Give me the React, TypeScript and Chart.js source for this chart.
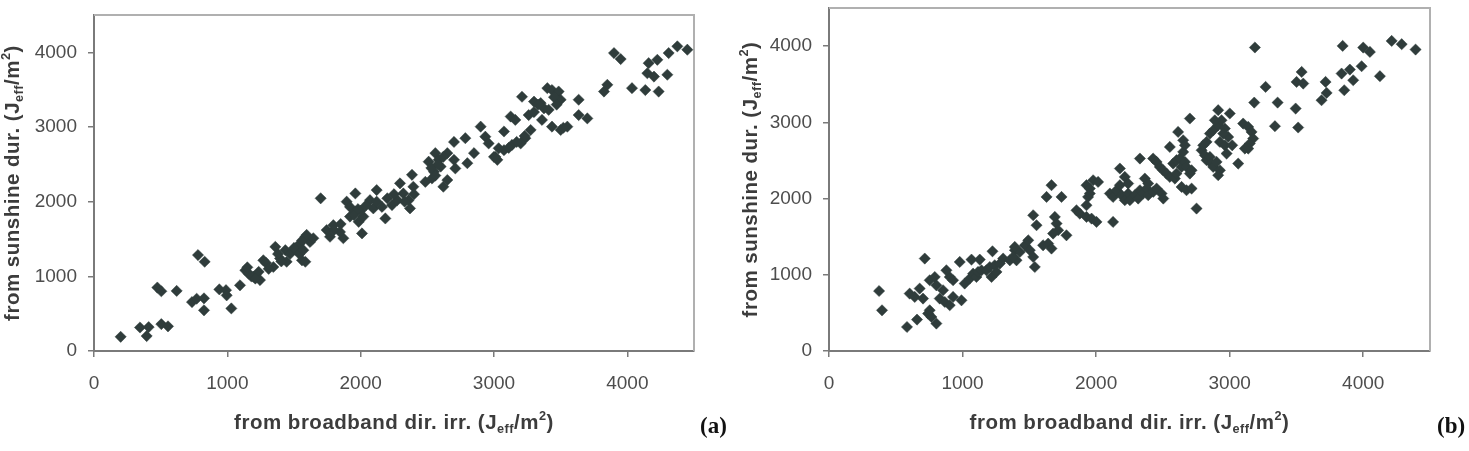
import { useEffect, useRef } from "react";
import { Chart, registerables } from "chart.js";

Chart.register(...registerables);

// Shared axis range and tick positions (J_eff/m²)
const AXIS_MIN = 0;
const AXIS_MAX = 4500;
const TICK_VALUES = [0, 1000, 2000, 3000, 4000];

// Axis captions with subscript / superscript runs
type Part = { text: string; shift?: "sub" | "sup" };
const X_CAPTION: Part[] = [
  { text: "from broadband dir. irr. (J" },
  { text: "eff", shift: "sub" },
  { text: "/m" },
  { text: "2", shift: "sup" },
  { text: ")" },
];
const Y_CAPTION: Part[] = [
  { text: "from sunshine dur. (J" },
  { text: "eff", shift: "sub" },
  { text: "/m" },
  { text: "2", shift: "sup" },
  { text: ")" },
];
const PANEL_LABELS = ["(a)", "(b)"];

// Panel (a): [broadband direct irradiance, sunshine duration] daily doses
const panelA: [number, number][] = [
  [200, 190], [345, 315], [395, 200], [410, 320], [505, 360], [555, 330], [475, 850], [505, 800],
  [620, 805], [780, 1285], [830, 1195], [735, 655], [770, 700], [825, 705], [825, 545], [940, 825],
  [990, 815], [995, 745], [1030, 570],
  [1095, 880], [1135, 1080], [1160, 1035], [1195, 995], [1235, 1060], [1245, 950], [1270, 1215],
  [1345, 1125], [1360, 1395], [1395, 1240], [1435, 1350], [1445, 1195], [1520, 1350], [1545, 1440],
  [1585, 1530], [1620, 1460], [1560, 1215], [1150, 1120], [1180, 1000], [1210, 970], [1290, 1180],
  [1310, 1100], [1380, 1300], [1405, 1200], [1470, 1300], [1500, 1380], [1540, 1300], [1560, 1480],
  [1595, 1555], [1645, 1510], [1570, 1350], [1585, 1195],
  [1700, 2045], [1745, 1620], [1795, 1685], [1770, 1530], [1870, 1510], [1845, 1595], [2010, 1575],
  [1895, 2000], [1960, 2110], [1920, 1930], [1920, 1800], [1960, 1865], [1985, 1730], [2020, 1800],
  [2120, 2155], [2185, 1775], [2070, 2020], [2095, 1910], [2160, 1930], [2200, 2045], [2235, 1955],
  [2275, 2020], [2295, 2245], [2320, 2110], [2360, 2020], [2370, 1910], [2395, 2200], [2385, 2360],
  [1800, 1620], [1850, 1700], [1950, 1820], [2000, 1880], [2040, 1950], [1980, 1900], [2120, 2000],
  [2250, 2100], [2330, 2000], [2400, 2100],
  [2485, 2265], [2535, 2310], [2550, 2400], [2510, 2535], [2560, 2650], [2585, 2560], [2600, 2470],
  [2650, 2650], [2700, 2800], [2785, 2850], [2700, 2560], [2710, 2445], [2620, 2200], [2650, 2290],
  [2800, 2515], [2850, 2650], [2900, 3005], [2935, 2870], [2960, 2780], [3000, 2600], [3025, 2560],
  [2530, 2450], [2580, 2500], [2620, 2600], [2560, 2350],
  [3075, 2940], [3125, 3140], [3160, 3095], [3210, 3405], [3260, 3160], [3300, 3340], [3350, 3320],
  [3375, 3250], [3400, 3520], [3435, 3495], [3485, 3475], [3500, 3365], [3410, 3230], [3360, 3095],
  [3435, 3005], [3500, 2960], [3550, 3005], [3275, 2960], [3235, 2850], [3200, 2780], [3135, 2760],
  [3075, 2690], [3010, 2600], [3035, 2715], [3110, 2720], [3170, 2800], [3230, 2880], [3300, 3200],
  [3330, 3300], [3450, 3400], [3470, 3300], [3520, 2990],
  [3635, 3365], [3635, 3160], [3700, 3115], [3825, 3475], [3850, 3565], [3900, 3990], [3950, 3910],
  [4035, 3520], [4135, 3495], [4235, 3475], [4160, 3855], [4225, 3900], [4150, 3720], [4200, 3675],
  [4300, 3700], [4310, 3990], [4375, 4080], [4450, 4035],
];

// Panel (b): [broadband direct irradiance, sunshine duration] daily doses
const panelB: [number, number][] = [
  [375, 787], [397, 534], [584, 315], [659, 412], [717, 1213], [604, 753], [642, 709], [679, 819],
  [704, 688], [754, 928], [792, 971], [804, 862], [742, 491], [767, 446], [804, 360], [754, 534],
  [829, 688], [854, 797], [867, 643], [904, 600], [929, 709], [904, 971], [879, 1059], [929, 928],
  [992, 665], [979, 1168],
  [1016, 885], [1054, 950], [1079, 1015], [1104, 971], [1116, 1037], [1142, 1059], [1179, 1059],
  [1204, 1102], [1241, 1125], [1279, 1147], [1217, 971], [1254, 1037], [1304, 1213], [1354, 1190],
  [1392, 1322], [1429, 1299], [1467, 1386], [1492, 1452], [1067, 1199], [1129, 1199], [1224, 1308],
  [1391, 1365], [1504, 1322], [1529, 1234], [1541, 1102], [1404, 1190], [1379, 1234], [1529, 1781],
  [1554, 1650], [1603, 1387], [1641, 1409], [1666, 1344], [1629, 2021], [1666, 2175], [1741, 2021],
  [1691, 1759], [1704, 1672], [1716, 1584], [1678, 1541], [1778, 1518],
  [1853, 1846], [1878, 1803], [1928, 1759], [1966, 1737], [2003, 1693], [1928, 1912], [1928, 2175],
  [1953, 2131], [1978, 2240], [2015, 2218], [1940, 2021], [1953, 2066], [2127, 1693],
  [2103, 2066], [2127, 2021], [2153, 2109], [2178, 2175], [2190, 2044], [2215, 1978], [2240, 2066],
  [2253, 1978], [2290, 2044], [2315, 2000], [2328, 2109], [2353, 2066], [2378, 2131], [2390, 2044],
  [2428, 2088], [2453, 2131], [2490, 2066], [2503, 2000],
  [2178, 2394], [2215, 2284], [2240, 2197], [2328, 2525], [2365, 2262], [2390, 2197], [2427, 2525],
  [2453, 2480], [2477, 2415], [2502, 2371], [2527, 2328], [2552, 2284], [2590, 2262], [2602, 2328],
  [2552, 2677], [2577, 2459], [2602, 2503], [2627, 2525], [2640, 2415], [2652, 2612], [2665, 2480],
  [2677, 2415], [2614, 2874], [2652, 2765], [2665, 2700], [2702, 3050], [2640, 2152], [2677, 2109],
  [2715, 2131], [2702, 2328], [2715, 2371], [2752, 1869],
  [2790, 2634], [2814, 2568], [2827, 2503], [2852, 2546], [2864, 2459], [2877, 2415], [2902, 2481],
  [2927, 2371], [2802, 2699], [2827, 2743], [2852, 2852], [2877, 2896], [2914, 2962], [2939, 3027],
  [2964, 2918], [2914, 3159], [2927, 2743], [2964, 2699], [2989, 2808], [2977, 2590], [2914, 2306],
  [3001, 3116], [2889, 3027], [2952, 2852],
  [3101, 2984], [3139, 2940], [3164, 2874], [3176, 2787], [3151, 2722], [3139, 2656], [3114, 2656],
  [3064, 2459], [3019, 2699],
  [3189, 3982], [3269, 3465], [3184, 3259], [3359, 3259], [3339, 2949], [3494, 3181], [3513, 2932],
  [3501, 3530], [3539, 3661], [3551, 3509], [3718, 3530], [3688, 3290], [3726, 3386], [3858, 3421],
  [3838, 3640], [3900, 3692], [3925, 3552], [3988, 3736], [4125, 3605], [3846, 4003], [4000, 3981],
  [4050, 3924], [4213, 4068], [4288, 4025], [4392, 3955],
];

const MARKER = "#2f3c3b";
const AXIS_DARK = "#7a7a7a";
const FRAME_LIGHT = "#b0b0b0";
const TICK_TEXT = "#4d4d4d";
const CAPTION_TEXT = "#3c3c3c";
const SANS = '"Liberation Sans", Arial, sans-serif';
const SERIF = '"Liberation Serif", "Times New Roman", serif';

type PanelLayout = {
  width: number;
  yAxisWidth: number;
  top: number;
  right: number;
  xAxisHeight: number;
  yCaptionBaseline: number;
  xCaptionBaseline: number;
  labelX: number;
  labelBaseline: number;
  label: string;
};

function drawRich(ctx: CanvasRenderingContext2D, parts: Part[], size: number, spacing: number) {
  const small = size * 0.62;
  (ctx as any).letterSpacing = `${spacing}px`;
  const widths = parts.map((p) => {
    ctx.font = `bold ${p.shift ? small : size}px ${SANS}`;
    return ctx.measureText(p.text).width;
  });
  const total = widths.reduce((a, b) => a + b, 0);
  let x = -total / 2;
  parts.forEach((p, i) => {
    ctx.font = `bold ${p.shift ? small : size}px ${SANS}`;
    const dy = p.shift === "sub" ? size * 0.2 : p.shift === "sup" ? -size * 0.42 : 0;
    ctx.fillText(p.text, x, dy);
    x += widths[i];
  });
  (ctx as any).letterSpacing = "0px";
}

function framePlugin(layout: PanelLayout) {
  return {
    id: "frameAndCaptions",
    beforeDatasetsDraw(chart: any) {
      const { ctx, chartArea: a } = chart;
      ctx.save();
      ctx.strokeStyle = FRAME_LIGHT;
      ctx.lineWidth = 2;
      ctx.beginPath();
      ctx.moveTo(a.left, a.top);
      ctx.lineTo(a.right, a.top);
      ctx.lineTo(a.right, a.bottom);
      ctx.stroke();
      ctx.restore();
    },
    afterDraw(chart: any) {
      const { ctx, chartArea: a } = chart;
      ctx.save();
      ctx.fillStyle = CAPTION_TEXT;
      ctx.textAlign = "left";
      ctx.textBaseline = "alphabetic";
      // x caption
      ctx.save();
      ctx.translate((a.left + a.right) / 2, layout.xCaptionBaseline);
      drawRich(ctx, X_CAPTION, 20.5, 0.5);
      ctx.restore();
      // y caption, rotated
      ctx.save();
      ctx.translate(layout.yCaptionBaseline, (a.top + a.bottom) / 2);
      ctx.rotate(-Math.PI / 2);
      drawRich(ctx, Y_CAPTION, 20.5, 0.5);
      ctx.restore();
      // panel label
      ctx.fillStyle = "#111111";
      ctx.font = `bold 23px ${SERIF}`;
      ctx.fillText(layout.label, layout.labelX, layout.labelBaseline);
      ctx.restore();
    },
  };
}

function axisOptions(kind: "x" | "y", layout: PanelLayout) {
  return {
    type: "linear" as const,
    min: AXIS_MIN,
    max: AXIS_MAX,
    afterBuildTicks: (scale: any) => {
      scale.ticks = TICK_VALUES.map((value) => ({ value }));
    },
    afterFit: (scale: any) => {
      if (kind === "x") scale.height = layout.xAxisHeight;
      else scale.width = layout.yAxisWidth;
      scale.paddingTop = 0;
      scale.paddingBottom = 0;
      scale.paddingLeft = 0;
      scale.paddingRight = 0;
    },
    grid: {
      display: true,
      drawOnChartArea: false,
      drawTicks: true,
      tickLength: 6,
      color: AXIS_DARK,
      lineWidth: 1.5,
    },
    border: { display: true, color: AXIS_DARK, width: 2 },
    ticks: {
      color: TICK_TEXT,
      font: { family: SANS, size: 19 },
      padding: kind === "x" ? 15 : 11,
      maxRotation: 0,
      autoSkip: false,
      callback: (v: any) => String(v),
    },
  };
}

function ScatterPanel({ points, layout }: { points: [number, number][]; layout: PanelLayout }) {
  const ref = useRef<HTMLCanvasElement | null>(null);
  useEffect(() => {
    if (!ref.current) return;
    const chart = new Chart(ref.current, {
      type: "scatter",
      data: {
        datasets: [
          {
            data: points.map(([x, y]) => ({ x, y })),
            pointStyle: "rectRot",
            pointRadius: 5.6,
            backgroundColor: MARKER,
            borderColor: MARKER,
            borderWidth: 0.5,
          },
        ],
      },
      options: {
        animation: false,
        responsive: false,
        maintainAspectRatio: false,
        events: [],
        layout: {
          autoPadding: false,
          padding: { left: 0, top: layout.top, right: layout.right, bottom: 0 },
        },
        plugins: { legend: { display: false }, tooltip: { enabled: false } },
        scales: {
          x: axisOptions("x", layout),
          y: axisOptions("y", layout),
        },
      } as any,
      plugins: [framePlugin(layout)],
    });
    return () => chart.destroy();
  }, [points, layout]);
  return <canvas ref={ref} width={layout.width} height={451} style={{ display: "block" }} />;
}

const LAYOUT_A: PanelLayout = {
  width: 730,
  yAxisWidth: 94,
  top: 15,
  right: 36,
  xAxisHeight: 100,
  yCaptionBaseline: 18.5,
  xCaptionBaseline: 428.5,
  labelX: 700,
  labelBaseline: 433,
  label: PANEL_LABELS[0],
};

const LAYOUT_B: PanelLayout = {
  width: 739,
  yAxisWidth: 99,
  top: 8,
  right: 39,
  xAxisHeight: 100,
  yCaptionBaseline: 27,
  xCaptionBaseline: 428.5,
  labelX: 707,
  labelBaseline: 433,
  label: PANEL_LABELS[1],
};

export default function App() {
  return (
    <div
      style={{
        position: "absolute",
        left: 0,
        top: 0,
        width: 1469,
        height: 451,
        display: "flex",
        background: "#ffffff",
      }}
    >
      <ScatterPanel points={panelA} layout={LAYOUT_A} />
      <ScatterPanel points={panelB} layout={LAYOUT_B} />
    </div>
  );
}
